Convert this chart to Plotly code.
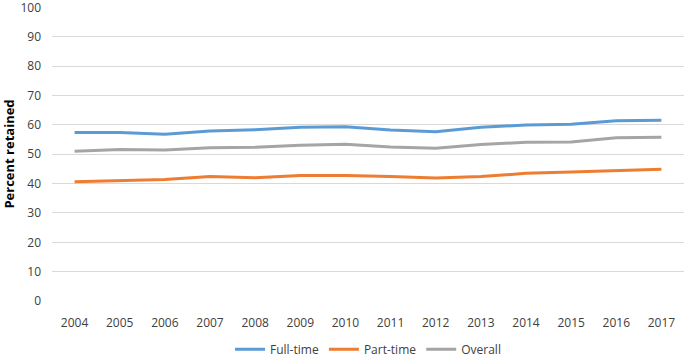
import plotly.graph_objects as go

years = [2004, 2005, 2006, 2007, 2008, 2009, 2010, 2011, 2012, 2013, 2014, 2015, 2016, 2017]
full_time = [57.4, 57.4, 56.8, 57.9, 58.4, 59.2, 59.4, 58.3, 57.7, 59.2, 60.0, 60.2, 61.4, 61.6]
part_time = [40.6, 40.9, 41.4, 42.4, 42.0, 42.8, 42.8, 42.4, 41.9, 42.4, 43.5, 44.0, 44.4, 44.9]
overall = [51.0, 51.6, 51.5, 52.2, 52.4, 53.1, 53.4, 52.5, 52.1, 53.3, 54.1, 54.2, 55.6, 55.8]
y_ticks = [0, 10, 20, 30, 40, 50, 60, 70, 80, 90, 100]

series = [
    ("Full-time", full_time, "#5B9BD5"),
    ("Part-time", part_time, "#ED7D31"),
    ("Overall", overall, "#A5A5A5"),
]

fig = go.Figure()
for name, vals, color in series:
    fig.add_trace(go.Scatter(x=years, y=vals, mode="lines", name=name,
                             line=dict(color=color, width=3)))

fig.update_layout(
    width=685, height=359,
    margin=dict(l=52, r=1, t=7, b=58, autoexpand=False),
    plot_bgcolor="white", paper_bgcolor="white",
    font=dict(family="Open Sans", size=12, color="#404040"),
    showlegend=True,
    legend=dict(orientation="h", x=0.5, xanchor="center", y=-0.115, yanchor="top",
                font=dict(size=12, color="#404040")),
    xaxis=dict(range=[2003.5, 2017.5], tickvals=years, ticktext=[str(y) for y in years],
               showgrid=False, zeroline=False, showline=False, ticks="",
               ticklabelstandoff=13, automargin=False, ticklabeloverflow="allow"),
    yaxis=dict(range=[0, 100.2], tickvals=y_ticks, showgrid=True, gridcolor="#D9D9D9",
               gridwidth=1, zeroline=False, showline=False, ticks="",
               ticklabelstandoff=10, automargin=False, ticklabeloverflow="allow",
               title=dict(text="<b>Percent retained</b>", font=dict(size=13, color="#000000"),
                          standoff=6)),
)

fig.write_html("out.html", config={"displayModeBar": False},
               post_script="document.body.style.margin='0';document.body.style.overflow='hidden';")
